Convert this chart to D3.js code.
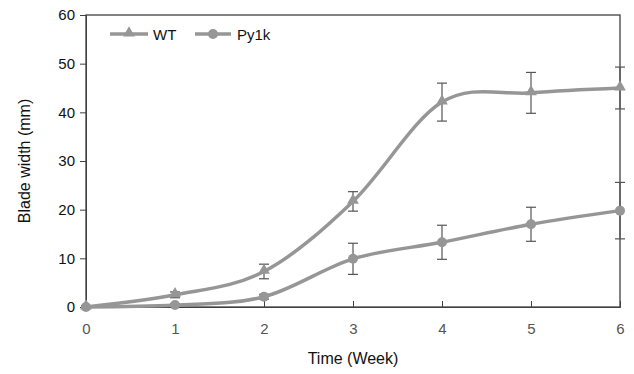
<!DOCTYPE html>
<html>
<head>
<meta charset="utf-8">
<script src="https://cdn.jsdelivr.net/npm/d3@7"></script>
<style>
  body { margin: 0; background: #fff; }
  svg text { font-family: "Liberation Sans", Arial, sans-serif; }
</style>
</head>
<body>
<div id="wrap"></div>
<script>
// data
var weeks = [0, 1, 2, 3, 4, 5, 6];
var wt = [0, 2.5, 7.3, 21.7, 42.1, 44.0, 45.0];
var wtErr = [0.3, 0.6, 1.5, 2.0, 3.9, 4.2, 4.3];
var py = [0, 0.4, 2.1, 9.9, 13.3, 17.0, 19.8];
var pyErr = [0.2, 0.3, 0.5, 3.2, 3.5, 3.5, 5.8];
var yTicks = [0, 10, 20, 30, 40, 50, 60];

var w = 634, h = 374;
var padL = 86, padR = 620, padT = 15, padB = 307;
var lineCol = "#969696";
var axisCol = "#404040";

var svg = d3.select("#wrap").append("svg").attr("width", w).attr("height", h);

var x = d3.scaleLinear().domain([0, 6]).range([padL, padR]);
var y = d3.scaleLinear().domain([0, 60]).range([padB, padT]);

// frame
svg.append("rect").attr("x", padL).attr("y", padT)
  .attr("width", padR - padL).attr("height", padB - padT)
  .attr("fill", "none").attr("stroke", axisCol).attr("stroke-width", 1.3);

// y axis
var yAxis = svg.append("g").attr("transform", "translate(" + padL + ",0)")
  .call(d3.axisLeft(y).tickValues(yTicks).tickFormat(d3.format("d")).tickSize(6).tickPadding(5));
yAxis.select(".domain").attr("stroke", axisCol);
yAxis.selectAll(".tick line").attr("stroke", axisCol);
yAxis.selectAll("text").attr("font-size", 15).attr("fill", "#111");

// x axis, ticks point inward
var xAxis = svg.append("g").attr("transform", "translate(0," + padB + ")")
  .call(d3.axisBottom(x).tickValues(weeks).tickFormat(d3.format("d")).tickSize(-6).tickPadding(16));
xAxis.select(".domain").attr("stroke", axisCol);
xAxis.selectAll(".tick line").attr("stroke", axisCol);
xAxis.selectAll("text").attr("font-size", 15).attr("fill", "#555");

svg.append("text").attr("x", (padL + padR) / 2).attr("y", 364)
  .attr("text-anchor", "middle").attr("font-size", 16).attr("fill", "#111")
  .text("Time (Week)");
svg.append("text").attr("transform", "translate(30," + ((padT + padB) / 2) + ") rotate(-90)")
  .attr("text-anchor", "middle").attr("font-size", 16).attr("fill", "#111")
  .text("Blade width (mm)");

var line = d3.line().curve(d3.curveCardinal.tension(0))
  .x(function(d, i) { return x(weeks[i]); })
  .y(function(d) { return y(d); });

function errBars(vals, errs) {
  var g = svg.append("g").attr("stroke", "#555").attr("stroke-width", 1.2);
  vals.forEach(function(v, i) {
    var cx = x(weeks[i]);
    g.append("line").attr("x1", cx).attr("x2", cx)
      .attr("y1", y(v - errs[i])).attr("y2", y(v + errs[i]));
    [v - errs[i], v + errs[i]].forEach(function(e) {
      g.append("line").attr("x1", cx - 5).attr("x2", cx + 5)
        .attr("y1", y(e)).attr("y2", y(e));
    });
  });
}

errBars(py, pyErr);
errBars(wt, wtErr);

svg.append("path").datum(py).attr("d", line)
  .attr("fill", "none").attr("stroke", lineCol).attr("stroke-width", 3.5);
svg.append("path").datum(wt).attr("d", line)
  .attr("fill", "none").attr("stroke", lineCol).attr("stroke-width", 3.5);

var tri = d3.symbol().type(d3.symbolTriangle).size(60);

svg.selectAll(".pyDot").data(py).enter().append("circle")
  .attr("cx", function(d, i) { return x(weeks[i]); })
  .attr("cy", function(d) { return y(d); })
  .attr("r", 5).attr("fill", lineCol);

svg.selectAll(".wtDot").data(wt).enter().append("path")
  .attr("d", tri)
  .attr("transform", function(d, i) { return "translate(" + x(weeks[i]) + "," + (y(d) - 1) + ")"; })
  .attr("fill", lineCol);

// legend
var leg = svg.append("g");
leg.append("line").attr("x1", 110).attr("x2", 148).attr("y1", 34).attr("y2", 34)
  .attr("stroke", lineCol).attr("stroke-width", 3.5);
leg.append("path").attr("d", tri).attr("transform", "translate(129,33)").attr("fill", lineCol);
leg.append("text").attr("x", 153).attr("y", 39.5).attr("font-size", 15).attr("fill", "#111").text("WT");
leg.append("line").attr("x1", 195).attr("x2", 231).attr("y1", 34).attr("y2", 34)
  .attr("stroke", lineCol).attr("stroke-width", 3.5);
leg.append("circle").attr("cx", 213).attr("cy", 34).attr("r", 5).attr("fill", lineCol);
leg.append("text").attr("x", 237).attr("y", 39.5).attr("font-size", 15).attr("fill", "#111").text("Py1k");
</script>
</body>
</html>
